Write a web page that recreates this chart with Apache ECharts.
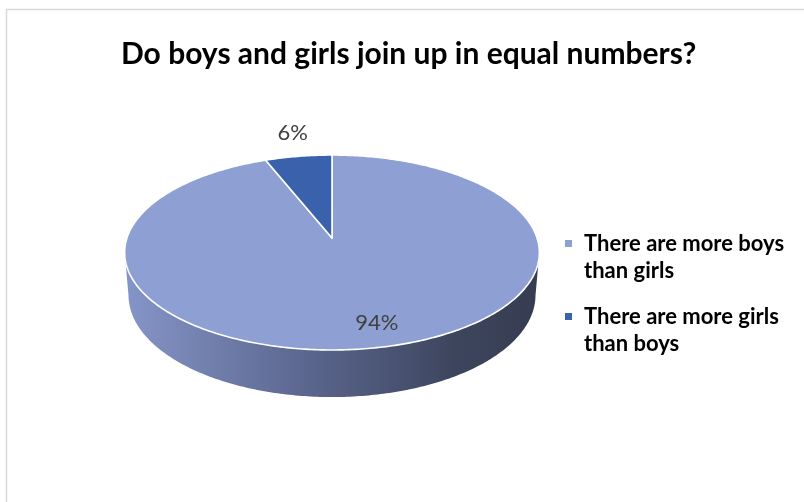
<!DOCTYPE html>
<html>
<head>
<meta charset="utf-8">
<script src="https://cdn.jsdelivr.net/npm/echarts@6/dist/echarts.min.js"></script>
<style>
  html, body { margin: 0; padding: 0; background: #fff; }
  #chart { width: 804px; height: 502px; }
</style>
</head>
<body>
<div id="chart"></div>
<script>
// ---- data ----
const titleText = 'Do boys and girls join up in equal numbers?';
const categories = ['There are more boys than girls', 'There are more girls than boys'];
const values = [94, 6];
const sliceLabels = ['94%', '6%'];

// ---- style ----
const topColors = ['#8EA0D3', '#3A62AC'];
const total = values.reduce((a, b) => a + b, 0);
const starts = values.map((v, i) => values.slice(0, i).reduce((a, b) => a + b, 0));

// perspective projection of a tilted disc
const PHI = 27.7 * Math.PI / 180, SN = Math.sin(PHI), CS = Math.cos(PHI);
const DIST = 5.95, SCALE = 1220, CX = 332, CY = 238, THICK = 0.237;
function proj(u, v, y) {
  const yp = y * CS + v * SN;
  const zp = -y * SN + v * CS;
  const k = SCALE / (DIST + zp);
  return [CX + u * k, CY - yp * k];
}
const TV = Math.acos(-CS / DIST);

function arcPts(a0, a1, y) {
  const n = Math.max(2, Math.ceil(Math.abs(a1 - a0) / (Math.PI / 240)));
  const pts = [];
  for (let i = 0; i <= n; i++) {
    const t = a0 + (a1 - a0) * i / n;
    pts.push(proj(Math.sin(t), Math.cos(t), y));
  }
  return pts;
}

function renderItem(params, api) {
  const start = api.value(0), val = api.value(1);
  const idx = params.seriesIndex;
  const a0 = start / total * 2 * Math.PI, a1 = (start + val) / total * 2 * Math.PI;
  const children = [];
  // side wall (only the front, visible part)
  const s0 = Math.max(a0, TV), s1 = Math.min(a1, 2 * Math.PI - TV);
  if (s1 > s0) {
    const topRim = arcPts(s0, s1, 0);
    const botRim = arcPts(s1, s0, -THICK);
    children.push({
      type: 'polygon', z2: 1,
      shape: { points: topRim.concat(botRim) },
      style: {
        fill: {
          type: 'linear', global: true, x: 126, y: 0, x2: 538, y2: 0,
          colorStops: [
            { offset: 0, color: '#8595C8' },
            { offset: 0.45, color: '#5A658D' },
            { offset: 0.8, color: '#3D455D' },
            { offset: 1, color: '#363D52' }
          ]
        }
      }
    });
  }
  // top face
  const topPts = [proj(0, 0, 0)].concat(arcPts(a0, a1, 0));
  children.push({
    type: 'polygon', z2: 10,
    shape: { points: topPts },
    style: { fill: topColors[idx], stroke: '#ffffff', lineWidth: 1.6, lineJoin: 'round' }
  });
  // label
  const mid = (a0 + a1) / 2;
  const r = val / total > 0.1 ? 0.8 : 1.35;
  const p = proj(Math.sin(mid) * r, Math.cos(mid) * r, 0);
  children.push({
    type: 'text', z2: 20,
    x: p[0] + (r < 1 ? 10 : 4), y: p[1],
    style: {
      text: sliceLabels[idx], align: 'center', verticalAlign: 'middle',
      fontFamily: 'Lato', fontSize: 22, fill: '#404040'
    }
  });
  return { type: 'group', children: children };
}

const chart = echarts.init(document.getElementById('chart'), null, { renderer: 'canvas' });

const legendTops = [198, 271];
const option = {
  animation: false,
  backgroundColor: '#ffffff',
  title: {
    text: titleText, left: 116, top: 34,
    textStyle: { fontFamily: 'Lato', fontWeight: 'bold', fontSize: 30, color: '#000000' }
  },
  legend: categories.map((c, i) => ({
    data: [c], left: 560, top: legendTops[i], orient: 'vertical',
    icon: 'rect', itemWidth: 7, itemHeight: 7,
    formatter: function (name) {
      const w = name.split(' ');
      return ' \n' + w.slice(0, 4).join(' ') + '\n' + w.slice(4).join(' ');
    },
    textStyle: {
      fontFamily: 'Lato', fontWeight: 'bold', fontSize: 22, color: '#000000',
      lineHeight: 27, padding: [0, 0, 0, 7]
    }
  })),
  graphic: [{
    type: 'rect', silent: true,
    shape: { x: 6.5, y: 9.5, width: 900, height: 600 },
    style: { fill: 'none', stroke: '#D9D9D9', lineWidth: 1.5 }
  }],
  series: categories.map((c, i) => ({
    type: 'custom', name: c, coordinateSystem: 'none', silent: true,
    itemStyle: { color: topColors[i] },
    renderItem: renderItem,
    data: [[starts[i], values[i]]]
  }))
};
chart.setOption(option);
</script>
</body>
</html>
